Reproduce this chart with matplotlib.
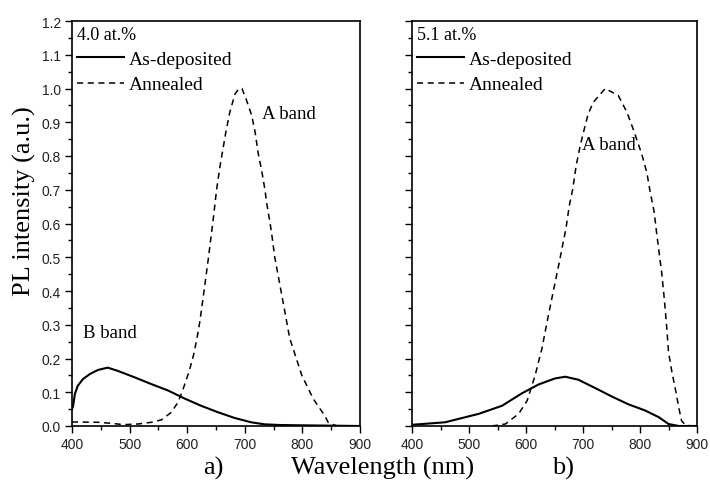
import matplotlib
matplotlib.use("Agg")
import matplotlib.pyplot as plt
from matplotlib.ticker import MultipleLocator
from matplotlib.lines import Line2D

# ---------------- data ----------------
# Panel a) 4.0 at.%
a_dep_wl = [400, 402, 405, 410, 419, 431, 445, 462, 480, 509, 538, 567, 596, 624, 653, 682, 711, 734, 760, 800, 850, 900]
a_dep_pl = [0.05, 0.06, 0.095, 0.119, 0.139, 0.154, 0.166, 0.173, 0.163, 0.144, 0.124, 0.105, 0.081, 0.06, 0.041,
            0.024, 0.011, 0.005, 0.003, 0.002, 0.001, 0.0]

a_ann_wl = [400, 445, 468, 489, 515, 538, 555, 572, 584, 593, 603, 611, 617, 622, 630, 637, 645, 651, 657, 663, 667, 674,
            683, 690, 695, 702, 712, 718, 723, 729, 735, 738, 744, 747, 752, 758, 778, 799, 819, 839, 845, 860, 900]
a_ann_pl = [0.012, 0.011, 0.008, 0.004, 0.006, 0.011, 0.018, 0.04, 0.07, 0.11, 0.16, 0.21, 0.26, 0.31, 0.41, 0.5, 0.61,
            0.70, 0.77, 0.83, 0.87, 0.93, 0.984, 1.0, 1.0, 0.97, 0.92, 0.87, 0.81, 0.76, 0.70, 0.66, 0.60, 0.565, 0.5,
            0.445, 0.26, 0.15, 0.08, 0.03, 0.01, 0.0, 0.0]

# Panel b) 5.1 at.%
b_dep_wl = [403, 458, 517, 558, 593, 622, 651, 669, 692, 722, 751, 780, 809, 833, 850, 868, 900]
b_dep_pl = [0.004, 0.011, 0.036, 0.06, 0.097, 0.123, 0.141, 0.146, 0.137, 0.112, 0.087, 0.064, 0.046, 0.026, 0.006,
            0.0, 0.0]

b_ann_wl = [540, 564, 587, 602, 616, 628, 636, 648, 659, 664, 670, 676, 682, 688, 695, 703, 709, 718, 739, 762, 777,
            788, 803, 812, 818, 825, 829, 835, 838, 843, 847, 850, 856, 862, 868, 873, 880, 890, 900]
b_ann_pl = [0.0, 0.006, 0.036, 0.075, 0.15, 0.23, 0.3, 0.4, 0.49, 0.534, 0.584, 0.653, 0.702, 0.771, 0.83, 0.885,
            0.924, 0.959, 1.0, 0.979, 0.93, 0.88, 0.806, 0.751, 0.692, 0.633, 0.574, 0.495, 0.455, 0.37, 0.29,
            0.22, 0.16, 0.11, 0.055, 0.015, 0.003, 0.0, 0.0]

x_ticks = [400, 500, 600, 700, 800, 900]
y_ticks = [0.0, 0.1, 0.2, 0.3, 0.4, 0.5, 0.6, 0.7, 0.8, 0.9, 1.0, 1.1, 1.2]

panels = [
    dict(dep=(a_dep_wl, a_dep_pl), ann=(a_ann_wl, a_ann_pl), conc="4.0 at.%",
         bands=[("A band", 730, 0.927), ("B band", 419, 0.278)], ylabels=True),
    dict(dep=(b_dep_wl, b_dep_pl), ann=(b_ann_wl, b_ann_pl), conc="5.1 at.%",
         bands=[("A band", 698, 0.833)], ylabels=False),
]

serif = ["Liberation Serif", "DejaVu Serif"]
sans = ["Liberation Sans", "DejaVu Sans"]

W, H = 710, 485
fig = plt.figure(figsize=(W / 100, H / 100), dpi=100)
rects = [
    [72 / W, 1 - 427 / H, (360 - 72) / W, (427 - 22) / H],
    [412 / W, 1 - 427 / H, (697 - 412) / W, (427 - 22) / H],
]

for rect, p in zip(rects, panels):
    ax = fig.add_axes(rect)
    ax.plot(*p["dep"], color="black", lw=1.5, ls="-")
    ax.plot(*p["ann"], color="black", lw=1.1, ls=(0, (4, 3)))
    ax.set_xlim(400, 900)
    ax.set_ylim(0, 1.2)
    ax.set_xticks(x_ticks)
    ax.set_yticks(y_ticks)
    ax.xaxis.set_minor_locator(MultipleLocator(50))
    ax.yaxis.set_minor_locator(MultipleLocator(0.05))
    ax.tick_params(axis="both", which="major", direction="out", length=5, width=1,
                   labelsize=10, pad=3)
    ax.tick_params(axis="both", which="minor", direction="out", length=3, width=1)
    for lab in ax.get_xticklabels() + ax.get_yticklabels():
        lab.set_family(sans)
        lab.set_color("#222222")
    if not p["ylabels"]:
        ax.tick_params(axis="y", labelleft=False)
    for s in ax.spines.values():
        s.set_linewidth(1.2)

    handles = [Line2D([], [], color="black", lw=1.5, ls="-"),
               Line2D([], [], color="black", lw=1.1, ls=(0, (4, 3)))]
    leg = ax.legend(handles, ["As-deposited", "Annealed"], title=p["conc"],
                    loc="upper left", bbox_to_anchor=(-0.008, 1.008), frameon=False,
                    prop={"family": serif, "size": 14}, handlelength=2.4,
                    handletextpad=0.25, labelspacing=0.4, borderaxespad=0.2,
                    borderpad=0.2, alignment="left",
                    title_fontproperties={"family": serif, "size": 13})
    for (txt, x, y) in p["bands"]:
        ax.text(x, y, txt, fontsize=13.5, family=serif, ha="left", va="center")

fig.text(24 / W, 1 - 201 / H, "PL intensity (a.u.)", rotation=90, fontsize=19,
         family=serif, ha="center", va="center")
fig.text(383 / W, 1 - 468 / H, "Wavelength (nm)", fontsize=19, family=serif,
         ha="center", va="center")
fig.text(213 / W, 1 - 468 / H, "a)", fontsize=19, family=serif, ha="center", va="center")
fig.text(563 / W, 1 - 468 / H, "b)", fontsize=19, family=serif, ha="center", va="center")

fig.savefig("out.png", dpi=100)
